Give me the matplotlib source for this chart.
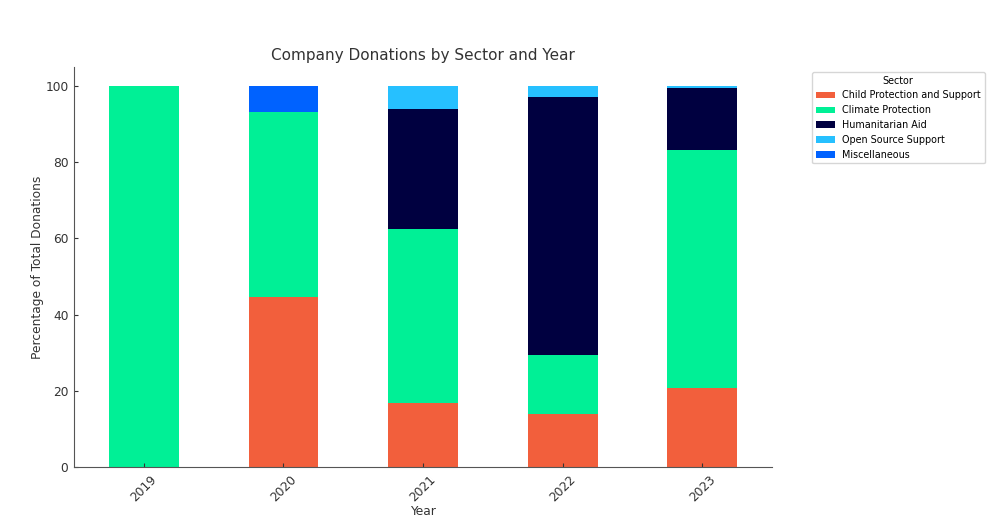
import numpy as np
import matplotlib.pyplot as plt

# Данные
years = ['2019', '2020', '2021', '2022', '2023']
sectors = ['Child Protection and Support', 'Climate Protection', 'Humanitarian Aid',
           'Open Source Support', 'Miscellaneous']
child = [0, 44.5, 16.9, 13.9, 20.8]
climate = [100, 48.7, 45.5, 15.4, 62.5]
humanitarian = [0, 0, 31.5, 67.7, 16.1]
open_source = [0, 0, 6.1, 3.0, 0.6]
misc = [0, 6.8, 0, 0, 0]
colors = ['#F25F3C', '#00F096', '#000040', '#26C0FF', '#0062FF']

values = [child, climate, humanitarian, open_source, misc]

fig = plt.figure(figsize=(9.98, 5.22), dpi=100)
ax = fig.add_axes([74 / 998, 55 / 522, 698 / 998, 400 / 522])

x = np.arange(len(years))
bottom = np.zeros(len(years))
for name, vals, c in zip(sectors, values, colors):
    ax.bar(x, vals, width=0.5, bottom=bottom, color=c, label=name)
    bottom += np.array(vals)

ax.set_xlim(-0.5, len(years) - 0.5)
ax.set_ylim(0, 105)
ax.set_xticks(x)
ax.set_xticklabels(years, rotation=45)
ax.set_title('Company Donations by Sector and Year', fontsize=11, color='#333333', pad=5)
ax.set_xlabel('Year', color='#333333', fontsize=8.8, labelpad=1)
ax.set_ylabel('Percentage of Total Donations', color='#333333', fontsize=8.8, labelpad=1)
ax.spines['top'].set_visible(False)
ax.spines['right'].set_visible(False)
for s in ['left', 'bottom']:
    ax.spines[s].set_color('#555555')
ax.tick_params(colors='#333333', labelsize=8.8, length=3, direction='in', pad=4)

leg = ax.legend(title='Sector', bbox_to_anchor=(1.05, 1), loc='upper left',
                fontsize=6.9, title_fontsize=6.9)

fig.savefig('out.png', dpi=100)
